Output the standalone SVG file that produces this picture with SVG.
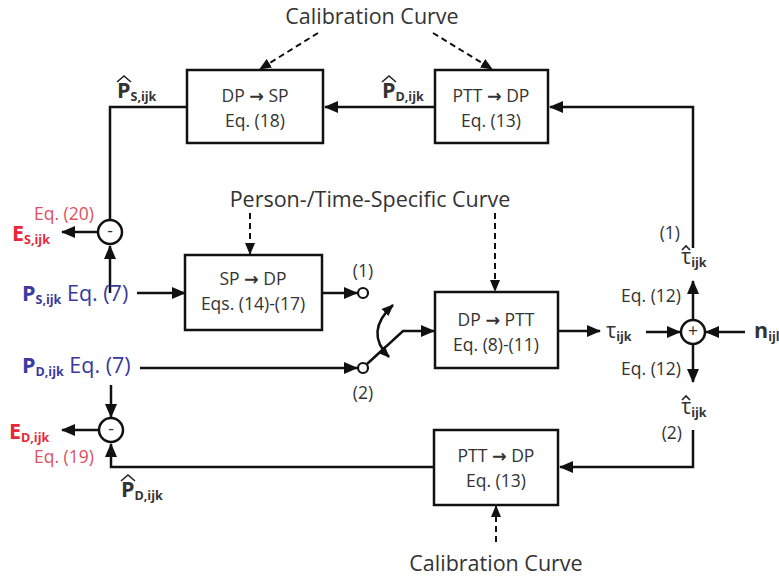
<svg xmlns="http://www.w3.org/2000/svg" width="779" height="578" viewBox="0 0 779 578">
<defs>
<marker id="ah" markerUnits="userSpaceOnUse" markerWidth="14" markerHeight="12" refX="13" refY="6" orient="auto">
<path d="M0,0 L14,6 L0,12 z" fill="#111"/>
</marker>
<marker id="ahs" markerUnits="userSpaceOnUse" markerWidth="12" markerHeight="10" refX="11" refY="5" orient="auto-start-reverse">
<path d="M0,0 L12,5 L0,10 z" fill="#111"/>
</marker>
<style>
.box{fill:#fff;stroke:#111;stroke-width:2.5}
.ln{fill:none;stroke:#111;stroke-width:2.5}
.ar{fill:none;stroke:#111;stroke-width:2.5;marker-end:url(#ah)}
.da{fill:none;stroke:#111;stroke-width:2;stroke-dasharray:6,4;marker-end:url(#ahs)}
.t{font-family:"Open Sans","Liberation Sans",sans-serif;fill:#333;font-size:17.5px}
.big{font-size:21.5px}
.b{font-weight:bold}
.sub{font-size:12.5px;font-weight:bold}
.arw{font-family:"DejaVu Sans",sans-serif;font-weight:bold}
.blue{fill:#3a3a9c}
.red{fill:#e8283a}
.pink{fill:#e0505e}
.hat{fill:none;stroke:#222;stroke-width:1.6}
</style>
</defs>

<g id="connectors">
<polyline class="ar" points="693,248 693,107 550,107"/>
<line class="ar" x1="435" y1="107" x2="325" y2="107"/>
<polyline class="ln" points="187,107 110,107 110,220"/>
<line class="ar" x1="98" y1="232" x2="62" y2="232"/>
<line class="ar" x1="110" y1="293" x2="110" y2="246"/>
<line class="ar" x1="137" y1="293" x2="185" y2="293"/>
<line class="ar" x1="322" y1="293" x2="357" y2="293"/>
<line class="ar" x1="140" y1="368" x2="357" y2="368"/>
<line class="ar" x1="111" y1="385" x2="111" y2="417"/>
<line class="ar" x1="99" y1="430" x2="62" y2="430"/>
<polyline class="ar" points="434,467 111,467 111,444"/>
<polyline class="ar" points="693,430 693,467 560,467"/>
<polyline class="ar" points="367,364 403,331 434,331"/>
<path class="ln" d="M389,357 Q364,332 393,305" marker-end="url(#ahs)" marker-start="url(#ahs)"/>
<line class="ar" x1="558" y1="331" x2="600" y2="331"/>
<line class="ar" x1="646" y1="332" x2="680" y2="332"/>
<line class="ar" x1="745" y1="332" x2="706" y2="332"/>
<line class="ar" x1="693" y1="320" x2="693" y2="281"/>
<line class="ar" x1="693" y1="344" x2="693" y2="382"/>
<line class="da" x1="318" y1="33" x2="260" y2="69"/>
<line class="da" x1="433" y1="33" x2="492" y2="69"/>
<line class="da" x1="250" y1="213" x2="250" y2="254"/>
<line class="da" x1="495" y1="213" x2="495" y2="291"/>
<line class="da" x1="496" y1="542" x2="496" y2="506"/>
</g>

<g id="dp-sp">
<rect class="box" x="187" y="70" width="136" height="73"/>
<text class="t" x="255" y="102" text-anchor="middle">DP <tspan class="arw">→</tspan> SP</text>
<text class="t" x="255" y="127" text-anchor="middle">Eq. (18)</text>
</g>
<g id="ptt-dp-top">
<rect class="box" x="435" y="70" width="113" height="73"/>
<text class="t" x="491" y="102" text-anchor="middle">PTT <tspan class="arw">→</tspan> DP</text>
<text class="t" x="491" y="127" text-anchor="middle">Eq. (13)</text>
</g>
<g id="sp-dp">
<rect class="box" x="185" y="255" width="137" height="75"/>
<text class="t" x="253" y="285" text-anchor="middle">SP <tspan class="arw">→</tspan> DP</text>
<text class="t" x="253" y="310" text-anchor="middle">Eqs. (14)-(17)</text>
</g>
<g id="dp-ptt">
<rect class="box" x="435" y="292" width="123" height="76"/>
<text class="t" x="496" y="326" text-anchor="middle">DP <tspan class="arw">→</tspan> PTT</text>
<text class="t" x="496" y="351" text-anchor="middle">Eq. (8)-(11)</text>
</g>
<g id="ptt-dp-bottom">
<rect class="box" x="434" y="430" width="124" height="75"/>
<text class="t" x="496" y="462" text-anchor="middle">PTT <tspan class="arw">→</tspan> DP</text>
<text class="t" x="496" y="487" text-anchor="middle">Eq. (13)</text>
</g>

<g id="sum-s">
<circle cx="110" cy="232" r="12" fill="#fff" stroke="#111" stroke-width="2.5"/>
<text class="t" x="110" y="237" text-anchor="middle" font-size="13">-</text>
</g>
<g id="sum-d">
<circle cx="111" cy="430" r="12" fill="#fff" stroke="#111" stroke-width="2.5"/>
<text class="t" x="111" y="435" text-anchor="middle" font-size="13">-</text>
</g>
<g id="sum-tau">
<circle cx="693" cy="332" r="12" fill="#fff" stroke="#111" stroke-width="2.5"/>
<text class="t" x="693" y="337" text-anchor="middle" font-size="13">+</text>
</g>
<g id="switch">
<circle cx="363" cy="293" r="5" fill="#fff" stroke="#111" stroke-width="2.2"/>
<circle cx="363" cy="368" r="5" fill="#fff" stroke="#111" stroke-width="2.2"/>
<text class="t" x="363" y="277" text-anchor="middle">(1)</text>
<text class="t" x="363" y="399" text-anchor="middle">(2)</text>
</g>

<g id="labels">
<text class="t big" x="372" y="24" text-anchor="middle">Calibration Curve</text>
<text class="t big" x="370" y="207" text-anchor="middle">Person-/Time-Specific Curve</text>
<text class="t big" x="496" y="571" text-anchor="middle">Calibration Curve</text>

<text class="t b big" x="117" y="98">P<tspan class="sub" dy="3">S,ijk</tspan></text>
<path class="hat" d="M117,82 L124,76 L131,82"/>
<text class="t b big" x="382" y="98">P<tspan class="sub" dy="3">D,ijk</tspan></text>
<path class="hat" d="M382,82 L389,76 L396,82"/>
<text class="t b big" x="121" y="497">P<tspan class="sub" dy="3">D,ijk</tspan></text>
<path class="hat" d="M121,481 L128,475 L135,481"/>

<text class="t big blue" x="22" y="301"><tspan class="b">P</tspan><tspan class="sub" dy="3">S,ijk</tspan><tspan dy="-3"> Eq. (7)</tspan></text>
<text class="t big blue" x="22" y="373"><tspan class="b">P</tspan><tspan class="sub" dy="3">D,ijk</tspan><tspan dy="-3"> Eq. (7)</tspan></text>

<text class="t pink" x="34" y="220">Eq. (20)</text>
<text class="t big b red" x="12" y="241">E<tspan class="sub" dy="3">S,ijk</tspan></text>
<text class="t big b red" x="9" y="439">E<tspan class="sub" dy="3">D,ijk</tspan></text>
<text class="t pink" x="34" y="463">Eq. (19)</text>

<text class="t big" x="606" y="338">τ<tspan class="sub" dy="3">ijk</tspan></text>
<text class="t big b" x="754" y="338">n<tspan class="sub" dy="3">ijl</tspan></text>
<text class="t" x="681" y="302" text-anchor="end">Eq. (12)</text>
<text class="t" x="681" y="375" text-anchor="end">Eq. (12)</text>

<text class="t big" x="681" y="264">τ<tspan class="sub" dy="3">ijk</tspan></text>
<path class="hat" d="M682,250 L686,246 L690,250"/>
<text class="t" x="680" y="239" text-anchor="end">(1)</text>
<text class="t big" x="681" y="414">τ<tspan class="sub" dy="3">ijk</tspan></text>
<path class="hat" d="M682,400 L686,396 L690,400"/>
<text class="t" x="682" y="439" text-anchor="end">(2)</text>
</g>
</svg>
